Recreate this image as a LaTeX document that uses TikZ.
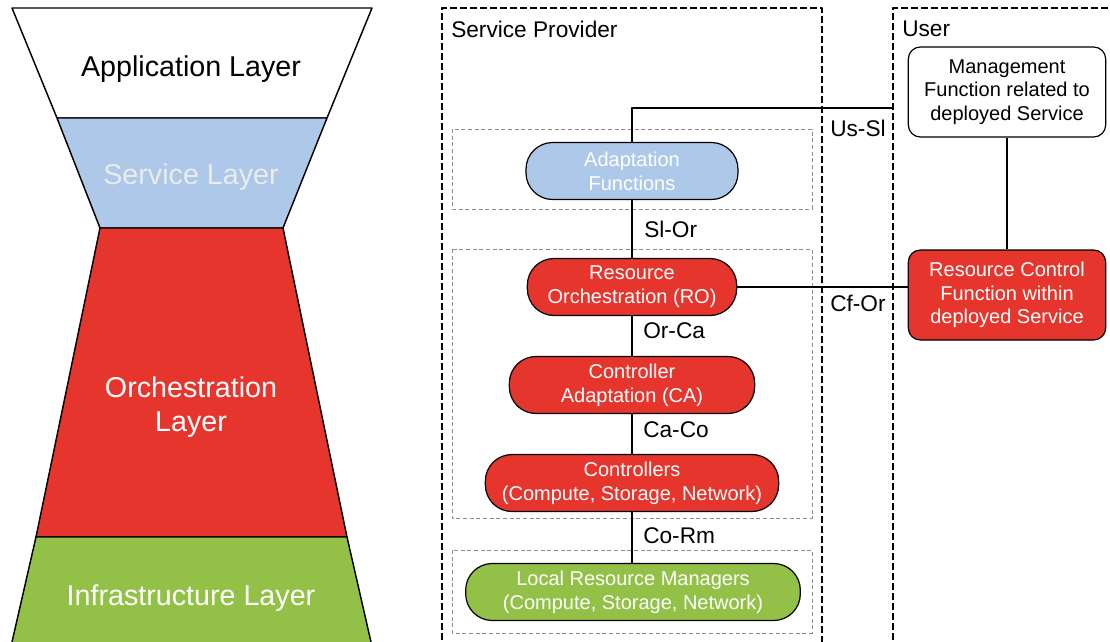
\documentclass[tikz,border=0pt]{standalone}
\usepackage{fontspec}
\setmainfont{Liberation Sans}
\usetikzlibrary{calc}

\definecolor{orchred}{RGB}{229,53,45}
\definecolor{servblue}{RGB}{174,200,233}
\definecolor{infragreen}{RGB}{147,193,71}

\begin{document}
\begin{tikzpicture}[x=0.75pt,y=-0.75pt,line join=round]
   \tikzset{func/.style 2 args={draw=black, line width=0.9pt, rounded corners=20pt, fill=#1, minimum width=#2, minimum height=42.75pt, align=center, text=white, font=\fontsize{15}{18}\selectfont}};
   \tikzset{usr/.style 2 args={draw=black, line width=0.9pt, rounded corners=9pt, fill=#1, text=#2, minimum width=148pt, minimum height=67.5pt, align=center, font=\fontsize{15}{17.6}\selectfont}};
   \tikzset{layer/.style={align=center, font=\fontsize{21.5}{25.5}\selectfont}};
   \tikzset{iface/.style={anchor=west, inner sep=0pt, font=\fontsize{17}{20}\selectfont}};
   \tikzset{conn/.style={draw=black, line width=1.9pt}};
   \tikzset{frame/.style={draw=black, line width=1.5pt, dash pattern=on 5pt off 2.5pt}};
   \tikzset{group/.style={draw=black!45, line width=0.7pt, dash pattern=on 3pt off 2pt}};
   \useasboundingbox (0,0) rectangle (1110,642);

% funnel
\filldraw[fill=white, draw=black, line width=1.1pt] (12,8) -- (372,8) -- (327,118) -- (57,118) -- cycle;
\filldraw[fill=servblue, draw=black, line width=1.1pt] (57,118) -- (327,118) -- (283,228) -- (100,228) -- cycle;
\filldraw[fill=orchred, draw=black, line width=1.1pt] (100,228) -- (283,228) -- (347,537) -- (36,537) -- cycle;
\fill[infragreen] (36,537) -- (347,537) -- (371,642) -- (12,642) -- cycle;
\draw[black, line width=1.1pt] (12,642) -- (36,537) -- (347,537) -- (371,642);

\node[layer, text=black] (app) at (191,69) {Application Layer};
\node[layer, text=white!92!black] (serv) at (191,177) {Service Layer};
\node[layer, text=white] (orch) at (191,407) {Orchestration\\Layer};
\node[layer, text=white] (infra) at (191,598) {Infrastructure Layer};

% frames
\draw[frame] (442,660) -- (442,8) -- (822,8) -- (822,660);
\draw[frame] (893,660) -- (893,8) -- (1120,8);
\draw[group] (452,129) rectangle (812,209);
\draw[group] (452,249) rectangle (812,518);
\draw[group] (452,550) rectangle (812,633);

\node[iface] (sp) at (451,29) {Service Provider};
\node[iface] (us) at (902,29) {User};

% functions
\node[func={servblue}{159pt}] (af) at (632,171) {Adaptation\\Functions};
\node[func={orchred}{157pt}] (ro) at (632,287) {Resource\\Orchestration (RO)};
\node[func={orchred}{184pt}] (ca) at (632,385) {Controller\\Adaptation (CA)};
\node[func={orchred}{220pt}] (co) at (632,483) {Controllers\\(Compute, Storage, Network)};
\node[func={infragreen}{251pt}] (lrm) at (633,592) {Local Resource Managers\\(Compute, Storage, Network)};

\node[usr={white}{black}] (mf) at (1007,92) {Management\\Function related to\\deployed Service};
\node[usr={orchred}{white}] (rc) at (1007,295) {Resource Control\\Function within\\deployed Service};

\coordinate (ussl) at (893,108);

\draw[conn] (af.north) |- (ussl);
\draw[conn] (af) -- (ro);
\draw[conn] (ro.east) -- (ro.east -| rc.west);
\draw[conn] (ro) -- (ca);
\draw[conn] (ca) -- (co);
\draw[conn] (co.south) -- (co.south |- lrm.north);
\draw[conn] (mf) -- (rc);

\node[iface] (l1) at (830,128) {Us-Sl};
\node[iface] (l2) at (644,229) {Sl-Or};
\node[iface] (l3) at (830,303) {Cf-Or};
\node[iface] (l4) at (643,331) {Or-Ca};
\node[iface] (l5) at (643,430) {Ca-Co};
\node[iface] (l6) at (643,536) {Co-Rm};
   
\end{tikzpicture}
\end{document}
